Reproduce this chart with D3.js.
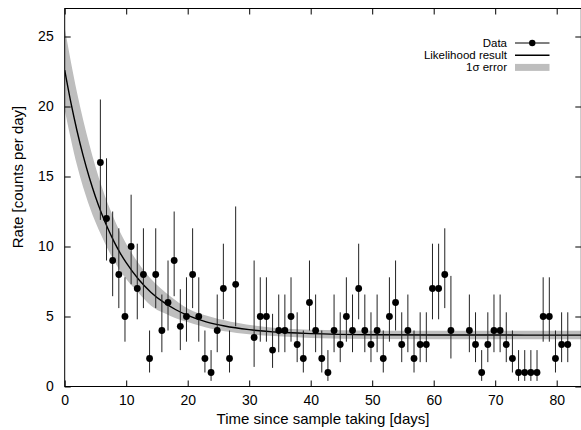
<!DOCTYPE html>
<html lang="en">
    <head>
        <meta charset="utf-8">
        <title>Rate since sample taking</title>
        <script src="https://d3js.org/d3.v7.min.js"></script>
        <style type="text/css">
        body { margin: 0; background: #fff; }
        text { font-family: "Liberation Sans", Arial, sans-serif; fill: #000; }
        .tick text { font-size: 14px; }
        .title { font-size: 15px; }
        .legend { font-size: 11.5px; }
        </style>
    </head>
    <body>
    <div id="vis"></div>
    <script type="text/javascript">

    // measured points (day, rate) and their 1 sigma bounds
    const days = [5.8, 6.8, 7.8, 8.8, 9.8, 10.8, 11.8, 12.8, 13.8, 14.8, 15.8, 16.8, 17.8, 18.8, 19.8, 20.8, 21.8, 22.8, 23.8, 24.8, 25.8, 26.8, 27.8,
                  30.8, 31.8, 32.8, 33.8, 34.8, 35.8, 36.8, 37.8, 38.8, 39.8, 40.8, 41.8, 42.8, 43.8, 44.8, 45.8, 46.8, 47.8, 48.8, 49.8, 50.8,
                  51.8, 52.8, 53.8, 54.8, 55.8, 56.8, 57.8, 58.8, 59.8, 60.8, 61.8, 62.8,
                  65.8, 66.8, 67.8, 68.8, 69.8, 70.8, 71.8, 72.8, 73.8, 74.8, 75.8, 76.8, 77.8, 78.8, 79.8, 80.8, 81.8];
    const rate = [16, 12, 9, 8, 5, 10, 7, 8, 2, 8, 4, 6, 9, 4.3, 5, 8, 5, 2, 1, 4, 7, 2, 7.3,
                  3.5, 5, 5, 2.6, 4, 4, 5, 3, 2, 6, 4, 2, 1, 4, 3, 5, 4, 7, 4, 3, 4,
                  2, 5, 6, 3, 4, 2, 3, 3, 7, 7, 8, 4,
                  4, 3, 1, 3, 4, 4, 3, 2, 1, 1, 1, 1, 5, 5, 2, 3, 3];
    const rateLo = [11.9, 9.0, 6.45, 5.6, 3.2, 7.3, 4.8, 5.6, 1.0, 5.6, 2.45, 4.0, 6.45, 2.6, 3.2, 5.6, 3.2, 1.0, 0.4, 2.45, 4.8, 1.0, 4.3,
                    1.4, 3.2, 3.2, 1.33, 2.45, 2.45, 3.2, 1.74, 1.0, 4.0, 2.45, 1.0, 0.4, 2.45, 1.74, 3.2, 2.45, 4.8, 2.45, 1.74, 2.45,
                    1.0, 3.2, 4.0, 1.74, 2.45, 1.0, 1.74, 1.74, 4.8, 4.8, 5.6, 2.0,
                    2.45, 1.74, 0.4, 1.74, 2.45, 2.45, 1.74, 1.0, 0.4, 0.4, 0.4, 0.4, 3.2, 3.2, 1.0, 1.74, 1.74];
    const rateHi = [20.5, 16.3, 12.5, 11.3, 7.8, 13.7, 10.2, 11.3, 4.0, 11.3, 6.57, 9.0, 12.5, 6.95, 7.8, 11.3, 7.8, 4.0, 2.6, 6.57, 10.2, 4.0, 12.86,
                    9.0, 7.8, 7.8, 5.19, 6.57, 6.57, 7.8, 5.3, 4.0, 9.0, 6.57, 4.0, 2.6, 6.57, 5.3, 7.8, 6.57, 10.2, 6.57, 5.3, 6.57,
                    4.0, 7.8, 9.0, 5.3, 6.57, 4.0, 5.3, 5.3, 10.2, 10.2, 11.3, 7.9,
                    6.57, 5.3, 2.6, 5.3, 6.57, 6.57, 5.3, 4.0, 2.6, 2.6, 2.6, 2.6, 7.8, 7.8, 4.0, 5.3, 5.3];

    // likelihood result
    const fitT = [0, 1, 2, 3, 4, 5, 6, 7, 8, 9, 10, 12, 14, 16, 18, 20, 23, 26, 30, 35, 40, 50, 60, 84];
    const fitRate = [22.6, 20.29, 18.27, 16.49, 14.93, 13.56, 12.36, 11.3, 10.37, 9.55, 8.84, 7.66, 6.74, 6.04, 5.5, 5.08, 4.62, 4.32, 4.06, 3.87, 3.78, 3.7, 3.68, 3.67];

    // 1 sigma band edges
    const bandT = [0, 2, 4, 6, 8, 10, 12, 14, 17, 20, 24, 28, 34, 40, 50, 84];
    const bandLo = [19.75, 15.8, 12.9, 10.75, 9.0, 7.67, 6.7, 5.78, 5.08, 4.6, 4.1, 3.82, 3.6, 3.47, 3.39, 3.37];
    const bandHi = [25.6, 21.0, 17.3, 14.3, 12.0, 10.2, 8.8, 7.7, 6.5, 5.58, 4.95, 4.55, 4.2, 4.05, 3.99, 3.98];

    const xTicks = [0, 10, 20, 30, 40, 50, 60, 70, 80];
    const yTicks = [0, 5, 10, 15, 20, 25];

    const width = 581;
    const height = 430;
    const plotL = 64.7, plotR = 581.3, plotT = 8.5, plotB = 386.5;

    const xScale = d3.scaleLinear().domain([0, 84]).range([plotL, plotR]);
    const yScale = d3.scaleLinear().domain([0, 27]).range([plotB, plotT]);

    const svg = d3.select("#vis")
                  .append("svg")
                  .attr("width", width)
                  .attr("height", height);

    svg.append("defs").append("clipPath")
       .attr("id", "plotclip")
       .append("rect")
       .attr("x", plotL).attr("y", plotT)
       .attr("width", plotR - plotL).attr("height", plotB - plotT);

    const plot = svg.append("g").attr("clip-path", "url(#plotclip)");

    // error band
    const band = bandT.map((t, i) => ({t: t, lo: bandLo[i], hi: bandHi[i]}));
    plot.append("path")
        .datum(band)
        .attr("fill", "#bebebe")
        .attr("d", d3.area()
                     .x(d => xScale(d.t))
                     .y0(d => yScale(d.lo))
                     .y1(d => yScale(d.hi))
                     .curve(d3.curveMonotoneX));

    // likelihood line
    const fit = fitT.map((t, i) => ({t: t, r: fitRate[i]}));
    plot.append("path")
        .datum(fit)
        .attr("fill", "none")
        .attr("stroke", "#000")
        .attr("stroke-width", 1.4)
        .attr("d", d3.line()
                     .x(d => xScale(d.t))
                     .y(d => yScale(d.r))
                     .curve(d3.curveMonotoneX));

    // data with error bars
    const data = days.map((d, i) => ({day: d, r: rate[i], lo: rateLo[i], hi: rateHi[i]}));

    plot.selectAll(".err")
        .data(data)
        .enter()
        .append("line")
        .attr("class", "err")
        .attr("x1", d => xScale(d.day))
        .attr("x2", d => xScale(d.day))
        .attr("y1", d => yScale(d.lo))
        .attr("y2", d => yScale(d.hi))
        .attr("stroke", "#222")
        .attr("stroke-width", 1);

    plot.selectAll(".pt")
        .data(data)
        .enter()
        .append("circle")
        .attr("class", "pt")
        .attr("cx", d => xScale(d.day))
        .attr("cy", d => yScale(d.r))
        .attr("r", 3.4)
        .attr("fill", "#000");

    // axes, ticks inward on all four sides
    const tick = 6;
    svg.append("g")
       .attr("transform", "translate(0," + plotB + ")")
       .call(d3.axisBottom(xScale).tickValues(xTicks).tickSizeInner(-tick).tickSizeOuter(0).tickPadding(8.6))
       .call(g => g.select(".domain").remove());
    svg.append("g")
       .attr("transform", "translate(0," + plotT + ")")
       .call(d3.axisTop(xScale).tickValues(xTicks).tickSizeInner(-tick).tickSizeOuter(0).tickFormat(""))
       .call(g => g.select(".domain").remove());
    svg.append("g")
       .attr("transform", "translate(" + plotL + ",0)")
       .call(d3.axisLeft(yScale).tickValues(yTicks).tickSizeInner(-tick).tickSizeOuter(0).tickPadding(11))
       .call(g => g.select(".domain").remove());
    svg.append("g")
       .attr("transform", "translate(" + plotR + ",0)")
       .call(d3.axisRight(yScale).tickValues(yTicks).tickSizeInner(-tick).tickSizeOuter(0).tickFormat(""))
       .call(g => g.select(".domain").remove());

    svg.selectAll(".tick line").attr("stroke", "#000");
    svg.selectAll(".tick text").attr("fill", "#000");

    svg.append("rect")
       .attr("x", plotL).attr("y", plotT)
       .attr("width", plotR - plotL).attr("height", plotB - plotT)
       .attr("fill", "none")
       .attr("stroke", "#000")
       .attr("stroke-width", 1);

    svg.append("text")
       .attr("class", "title")
       .attr("x", (plotL + plotR) / 2)
       .attr("y", 424)
       .attr("text-anchor", "middle")
       .text("Time since sample taking [days]");

    svg.append("text")
       .attr("class", "title")
       .attr("transform", "translate(23,177) rotate(-90)")
       .attr("text-anchor", "middle")
       .text("Rate [counts per day]");

    // legend
    const legX = 507, symA = 515, symB = 549.5;
    const legend = svg.append("g").attr("class", "legend");
    const rows = [43, 55.2, 67.4];

    legend.append("text").attr("x", legX).attr("y", rows[0] + 4).attr("text-anchor", "end").text("Data");
    legend.append("line").attr("x1", symA).attr("x2", symB).attr("y1", rows[0]).attr("y2", rows[0]).attr("stroke", "#000");
    legend.append("circle").attr("cx", (symA + symB) / 2).attr("cy", rows[0]).attr("r", 3.2).attr("fill", "#000");

    legend.append("text").attr("x", legX).attr("y", rows[1] + 4).attr("text-anchor", "end").text("Likelihood result");
    legend.append("line").attr("x1", symA).attr("x2", symB).attr("y1", rows[1]).attr("y2", rows[1]).attr("stroke", "#000").attr("stroke-width", 1.4);

    legend.append("text").attr("x", legX).attr("y", rows[2] + 4).attr("text-anchor", "end").text("1σ error");
    legend.append("rect").attr("x", symA).attr("y", rows[2] - 3.5).attr("width", symB - symA).attr("height", 7).attr("fill", "#bebebe");

    </script>
    </body>
</html>
